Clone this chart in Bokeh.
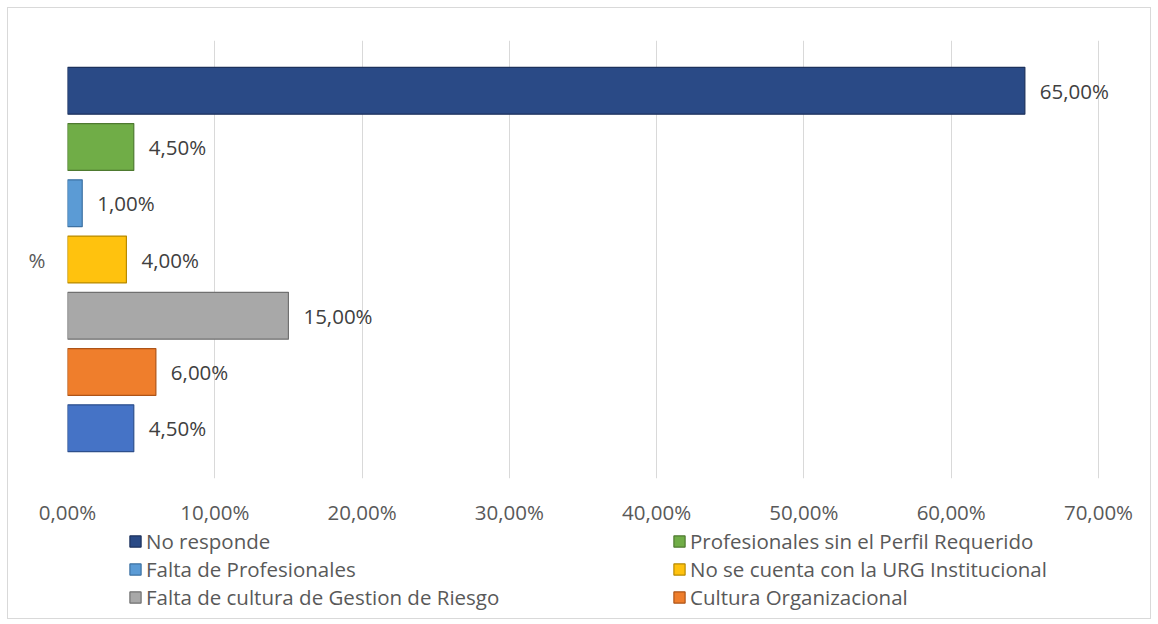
from bokeh.plotting import figure
from bokeh.layouts import column
from bokeh.models import Range1d, FactorRange, FixedTicker, Legend, LegendItem, ColumnDataSource
from bokeh.transform import dodge
from bokeh.core.properties import value
from bokeh.embed import file_html
from bokeh.resources import INLINE

category = "%"
series = [
    "No responde",
    "Profesionales sin el Perfil Requerido",
    "Falta de Profesionales",
    "No se cuenta con la URG Institucional",
    "Falta de cultura de Gestion de Riesgo",
    "Cultura Organizacional",
    "Otro",
]
values = [0.65, 0.045, 0.01, 0.04, 0.15, 0.06, 0.045]
colors = ["#2a4a86", "#70ad47", "#5b9bd5", "#ffc20e", "#a8a8a8", "#ef7e2c", "#4573c6"]
outlines = ["#1c315c", "#4e7a30", "#3d72a3", "#b88a00", "#707070", "#ae5417", "#2d4f8c"]
in_legend = [True, True, True, True, True, True, False]
ticks = [0.0, 0.1, 0.2, 0.3, 0.4, 0.5, 0.6, 0.7]
tick_labels = ["0,00%", "10,00%", "20,00%", "30,00%", "40,00%", "50,00%", "60,00%", "70,00%"]

FONT = "Open Sans"
FS = "20.5px"
TXT = "#595959"

W, H = 1142, 520
LEFT = 59
AXIS_PX = 1031          # pixel length of the 0..70% axis
frame_w = W - LEFT
x_end = ticks[-1] * frame_w / AXIS_PX   # room right of 70% for the data label

p = figure(width=W, height=H, output_backend="svg", toolbar_location=None,
           x_range=Range1d(0, x_end), y_range=FactorRange(factors=[category]),
           min_border_left=LEFT, min_border_right=0, min_border_top=32, min_border_bottom=48)

p.outline_line_color = None
p.ygrid.grid_line_color = None
p.xgrid.grid_line_color = "#d9d9d9"
p.xgrid.grid_line_width = 1

p.xaxis.ticker = FixedTicker(ticks=ticks)
p.xaxis.major_label_overrides = {t: l for t, l in zip(ticks, tick_labels)}
p.xaxis.axis_line_color = None
p.xaxis.major_tick_line_color = None
p.xaxis.minor_tick_line_color = None
p.xaxis.major_tick_out = 0
p.xaxis.major_tick_in = 0
p.xaxis.major_label_standoff = 19
p.xaxis.major_label_text_font = FONT
p.xaxis.major_label_text_font_size = FS
p.xaxis.major_label_text_color = TXT

p.yaxis.axis_line_color = None
p.yaxis.major_tick_line_color = None
p.yaxis.minor_tick_line_color = None
p.yaxis.major_tick_out = 0
p.yaxis.major_tick_in = 0
p.yaxis.major_label_standoff = 22
p.yaxis.major_label_text_font = FONT
p.yaxis.major_label_text_font_size = FS
p.yaxis.major_label_text_color = TXT

# legend strip (second figure, same left border so frames align)
LH = 90
p2 = figure(width=W, height=LH, output_backend="svg", toolbar_location=None,
            x_range=Range1d(0, 1), y_range=Range1d(0, 1),
            min_border_left=LEFT, min_border_right=0, min_border_top=0, min_border_bottom=0)
p2.axis.visible = False
p2.grid.visible = False
p2.outline_line_color = None

n = len(series)
pitch = 0.1284
bar_h = 0.107
items = []
for i, (name, v, c, oc, leg) in enumerate(zip(series, values, colors, outlines, in_legend)):
    off = (n - 1) / 2 * pitch - i * pitch
    src = ColumnDataSource(dict(cat=[category], v=[v],
                                lab=[f"{v*100:.2f}".replace(".", ",") + "%"]))
    p.hbar(y=dodge("cat", off, range=p.y_range), right="v", left=0, height=bar_h,
           source=src, fill_color=c, line_color=oc, line_width=1.2)
    p.text(x="v", y=dodge("cat", off, range=p.y_range), text="lab", source=src,
           x_offset=15, text_baseline="middle", text_align="left",
           text_font=value(FONT), text_font_size=FS, text_color="#404040")
    if leg:
        # legend proxy: same series, placed outside the strip's visible range
        proxy = p2.hbar(y=[-5], right=[v], left=0, height=0.1,
                        fill_color=c, line_color=oc, line_width=1.2)
        items.append(LegendItem(label=name, renderers=[proxy]))

ROWS_H = 84
for its, vx in ((items[0::2], 61), (items[1::2], 605)):
    lg = Legend(items=its, orientation="vertical", location=(vx, LH - ROWS_H + 1),
                label_text_font=FONT, label_text_font_size=FS,
                label_text_color=TXT, glyph_width=14, glyph_height=14,
                label_height=26, label_standoff=4, spacing=0,
                padding=0, margin=0, border_line_color=None, background_fill_alpha=0)
    p2.add_layout(lg, "center")

layout = column(p, p2, spacing=0, margin=(7, 0, 0, 7),
                styles={"border": "1px solid #d9d9d9"})
open("out.html", "w").write(file_html(layout, INLINE))
